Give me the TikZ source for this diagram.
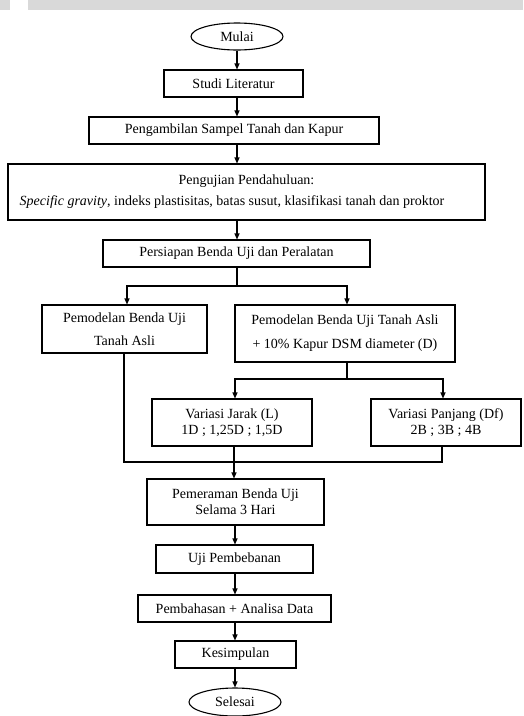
\documentclass[tikz,border=0pt]{standalone}
\usepackage{fontspec}
\setmainfont{Liberation Serif}
\usetikzlibrary{shapes.geometric,arrows.meta}
\begin{document}
\begin{tikzpicture}[x=1pt,y=-1pt,
  box/.style={draw,line width=1.1pt,rectangle,inner sep=0pt,align=center,font=\fontsize{14}{16}\selectfont},
  oval/.style={draw,line width=1.1pt,ellipse,inner sep=0pt,font=\fontsize{14}{16}\selectfont},
  arr/.style={line width=1.1pt,-{Triangle[length=6pt,width=5pt]}},
  ln/.style={line width=1.1pt}]
\useasboundingbox (0,0) rectangle (523,716);
\fill[black!15] (0,0) rectangle (523,10);
\fill[white] (10,0) rectangle (28,10);

\node[oval,minimum width=92pt,minimum height=27pt] (mulai) at (237,36.5) {Mulai};
\node[box,minimum width=139pt,minimum height=27pt] (studi) at (233.5,83.5) {Studi Literatur};
\node[box,minimum width=290pt,minimum height=27pt] (sampel) at (234,130.5) {Pengambilan Sampel Tanah dan Kapur};
\node[box,minimum width=477pt,minimum height=56pt] (uji) at (246.5,192) {Pengujian Pendahuluan:\\[5pt]\textit{Specific gravity}, indeks plastisitas, batas susut, klasifikasi tanah dan proktor\hspace*{29pt}};
\node[box,minimum width=267pt,minimum height=27pt] (siap) at (236.5,253.5) {Persiapan Benda Uji dan Peralatan};
\node[box,minimum width=165pt,minimum height=48pt,font=\fontsize{14}{23}\selectfont] (kiri) at (124.5,329) {Pemodelan Benda Uji\\Tanah Asli};
\node[box,minimum width=220pt,minimum height=57pt,font=\fontsize{14}{24}\selectfont] (kanan) at (345,333.5) {Pemodelan Benda Uji Tanah Asli\\+ 10\% Kapur DSM diameter (D)};
\node[box,minimum width=160pt,minimum height=47pt] (jarak) at (232,422.5) {Variasi Jarak (L)\\1D ; 1,25D ; 1,5D};
\node[box,minimum width=150pt,minimum height=47pt] (panjang) at (446,422.5) {Variasi Panjang (Df)\\2B ; 3B ; 4B};
\node[box,minimum width=177pt,minimum height=46pt] (peram) at (235.5,502) {Pemeraman Benda Uji\\Selama 3 Hari};
\node[box,minimum width=157pt,minimum height=28pt] (beban) at (234.5,559) {Uji Pembebanan};
\node[box,minimum width=193pt,minimum height=27pt] (bahas) at (234.5,608.5) {Pembahasan + Analisa Data};
\node[box,minimum width=121pt,minimum height=27pt] (simpul) at (235.5,654.5) {Kesimpulan};
\node[oval,minimum width=92pt,minimum height=28pt] (selesai) at (235,702) {Selesai};

\coordinate (c1) at (237,0);
\draw[arr] (mulai.south) -- (mulai.south |- studi.north);
\draw[arr] (c1 |- studi.south) -- (c1 |- sampel.north);
\draw[arr] (c1 |- sampel.south) -- (c1 |- uji.north);
\draw[arr] (c1 |- uji.south) -- (c1 |- siap.north);

\coordinate (b1) at (237,286);
\coordinate (lx) at (127,0);
\coordinate (rx) at (347,0);
\draw[ln] (c1 |- siap.south) -- (b1);
\draw[arr] (b1) -| (lx |- kiri.north);
\draw[arr] (b1) -| (rx |- kanan.north);

\coordinate (b2) at (347,379);
\coordinate (jx) at (235,0);
\coordinate (px) at (443,0);
\draw[ln] (rx |- kanan.south) -- (b2);
\draw[arr] (b2) -| (jx |- jarak.north);
\draw[arr] (b2) -| (px |- panjang.north);

\coordinate (m1) at (124,462);
\draw[ln] (m1 |- kiri.south) -- (m1) -- (442,462) -- (442,0 |- panjang.south);
\coordinate (dx) at (234,0);
\draw[arr] (dx |- jarak.south) -- (dx |- peram.north);
\draw[arr] (jx |- peram.south) -- (jx |- beban.north);
\draw[arr] (jx |- beban.south) -- (jx |- bahas.north);
\draw[arr] (jx |- bahas.south) -- (jx |- simpul.north);
\draw[arr] (jx |- simpul.south) -- (jx |- selesai.north);
\end{tikzpicture}
\end{document}
